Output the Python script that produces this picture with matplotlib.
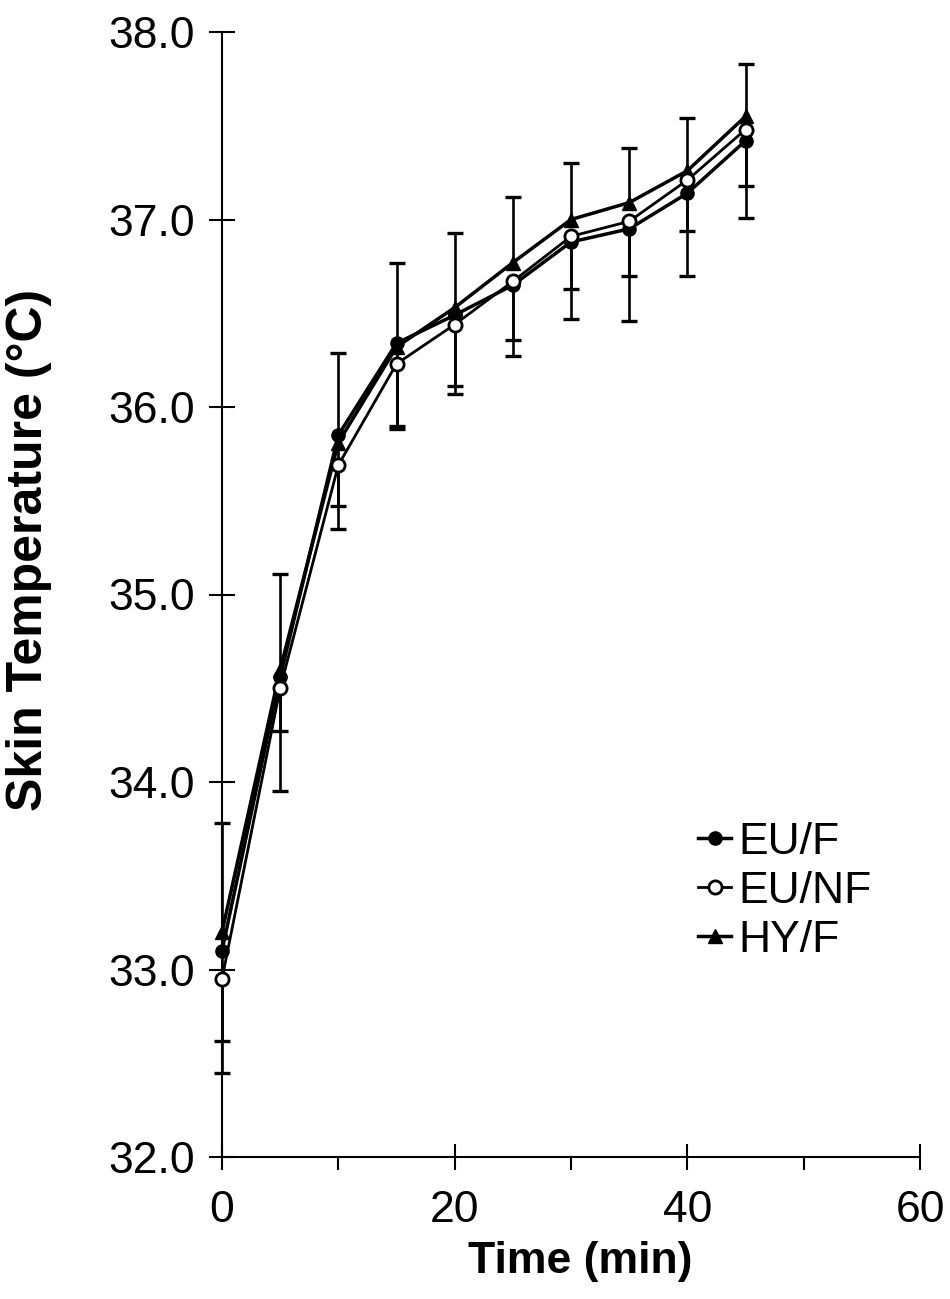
import matplotlib
matplotlib.use("Agg")
import matplotlib.pyplot as plt
import numpy as np

# skin temperature over time for the three trial conditions
time_min = [0, 5, 10, 15, 20, 25, 30, 35, 40, 45]
eu_f = [33.10, 34.56, 35.85, 36.34, 36.49, 36.65, 36.88, 36.95, 37.14, 37.42]
eu_nf = [32.95, 34.50, 35.69, 36.23, 36.44, 36.67, 36.91, 36.99, 37.21, 37.48]
hy_f = [33.20, 34.60, 35.81, 36.32, 36.53, 36.77, 37.00, 37.09, 37.26, 37.55]

# SD bars (one-sided: EU/F and EU/NF downward, HY/F upward)
eu_f_sd = [0.65, 0.61, 0.50, 0.46, 0.42, 0.38, 0.41, 0.49, 0.44, 0.41]
eu_nf_sd = [0.33, 0.23, 0.22, 0.33, 0.33, 0.31, 0.28, 0.29, 0.27, 0.30]
hy_f_sd = [0.58, 0.51, 0.48, 0.45, 0.40, 0.35, 0.30, 0.29, 0.28, 0.28]

x_ticks = [0, 20, 40, 60]
y_ticks = [32, 33, 34, 35, 36, 37, 38]

plt.rcParams['font.family'] = ['Liberation Sans', 'DejaVu Sans']

fig = plt.figure(figsize=(9.5, 12.99), dpi=100)
ax = fig.add_axes([222/950, 142/1299, 698/950, 1125/1299])

t = np.array(time_min)


def sd_bar(y, sd, up):
    y = np.array(y)
    sd = np.array(sd)
    end = y + sd if up else y - sd
    ax.vlines(t, y, end, colors='black', lw=1.9, zorder=1, clip_on=False)
    ax.plot(t, end, ls='none', marker='_', ms=11, mew=2.4, color='black',
            zorder=1, clip_on=False)


sd_bar(eu_f, eu_f_sd, False)
sd_bar(eu_nf, eu_nf_sd, False)
sd_bar(hy_f, hy_f_sd, True)

ax.plot(t, eu_f, color='black', lw=2.5, marker='o', ms=9.5,
        mfc='black', mec='black', label='EU/F', zorder=3, clip_on=False)
ax.plot(t, eu_nf, color='black', lw=2.0, marker='o', ms=9.5,
        mfc='white', mec='black', mew=2.0, label='EU/NF', zorder=4, clip_on=False)
ax.plot(t, hy_f, color='black', lw=2.5, marker='^', ms=9.5,
        mfc='black', mec='black', label='HY/F', zorder=3, clip_on=False)

ax.set_xlim(0, 60)
ax.set_ylim(32, 38)
ax.set_xticks(x_ticks)
ax.set_xticks([10, 30, 50], minor=True)
ax.set_yticks(y_ticks)
ax.set_yticklabels(['%.1f' % v for v in y_ticks])

for side in ['top', 'right']:
    ax.spines[side].set_visible(False)
for side in ['left', 'bottom']:
    ax.spines[side].set_linewidth(1.5)

ax.tick_params(axis='both', which='major', direction='inout', length=19,
               width=1.5, labelsize=32)
ax.tick_params(axis='x', which='major', pad=14)
ax.tick_params(axis='y', which='major', pad=10)
ax.tick_params(axis='x', which='minor', direction='out', length=9, width=1.5)

ax.set_ylabel('Skin Temperature (°C)', fontsize=36, fontweight='bold')
ax.yaxis.set_label_coords(-0.244, 0.54)
ax.set_xlabel('Time (min)', fontsize=32, fontweight='bold')
ax.xaxis.set_label_coords(0.513, -0.075)

leg = ax.legend(loc='upper left', bbox_to_anchor=(698/950, 1 - 822/1299),
                bbox_transform=fig.transFigure, frameon=False, fontsize=32,
                handlelength=0.75, handletextpad=0.15, labelspacing=0.18,
                borderpad=0, borderaxespad=0)

fig.savefig('out.png', dpi=100)
